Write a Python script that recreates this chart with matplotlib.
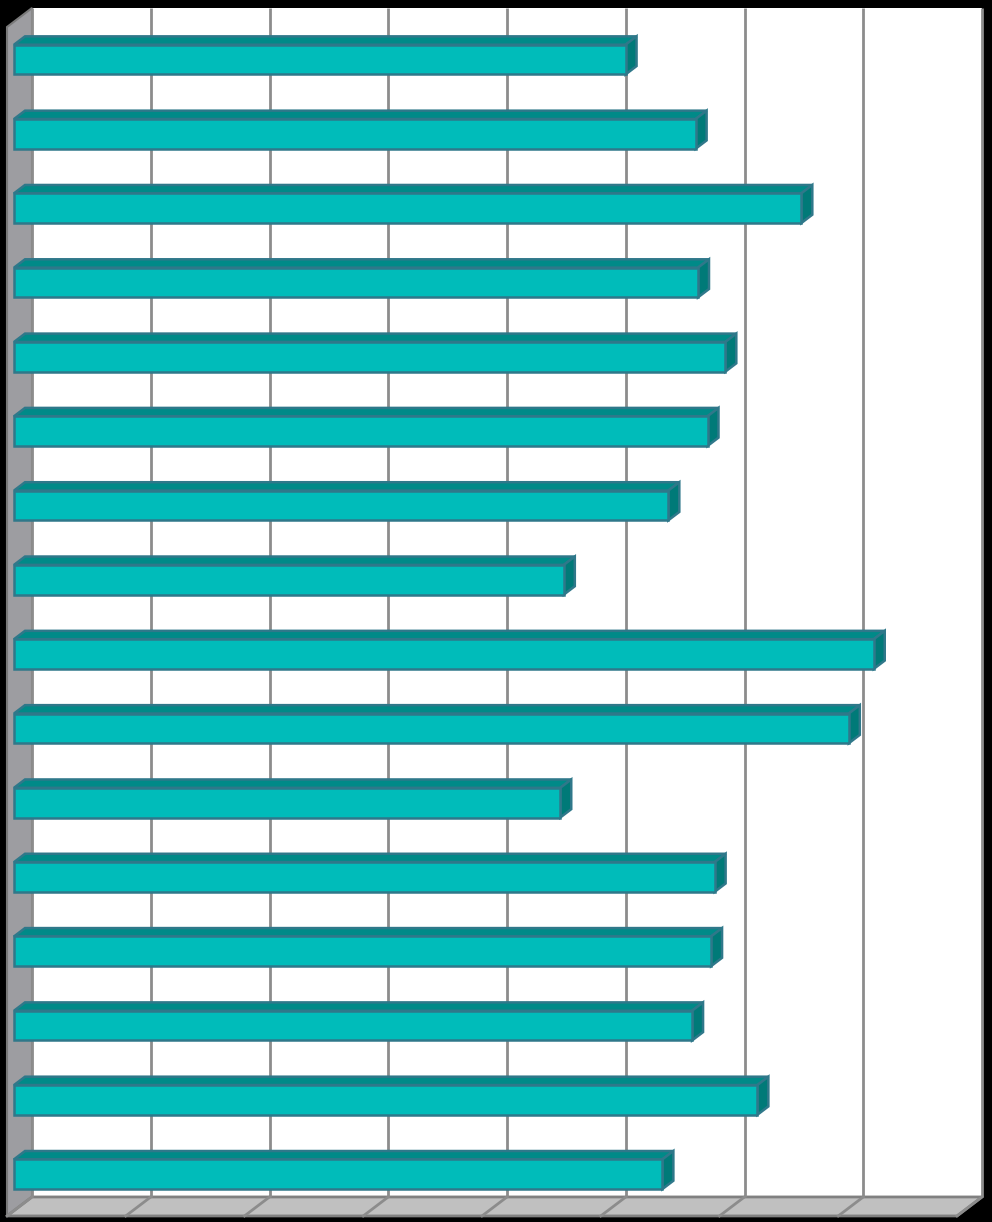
import matplotlib
matplotlib.use("Agg")
import matplotlib.pyplot as plt
from matplotlib.patches import Polygon, Rectangle

# Data (top to bottom)
categories = list(range(1, 17))
values = [5.15, 5.74, 6.63, 5.76, 5.99, 5.84, 5.51, 4.63,
          7.24, 7.03, 4.60, 5.90, 5.87, 5.71, 6.26, 5.46]
x_ticks = list(range(0, 9))

# Styling / geometry
PX_X = 118.75   # pixels per value unit
PX_Y = 74.31    # pixels per category slot
DX = -25 / PX_X  # depth offset (front plane relative to back wall)
DY = 19 / PX_Y
XMAX = 8
N = len(categories)

FRONT = "#00BCBA"
TOP = "#008A88"
SIDE = "#007A78"
EDGE = "#2F788A"
GRID = "#8C8C8C"

fig = plt.figure(figsize=(9.92, 12.22), dpi=100, facecolor="black")
ax = fig.add_axes([0, 0, 1, 1])
ax.set_facecolor("black")
ax.set_xlim(-32 / PX_X, 960 / PX_X)
ax.set_ylim((1222 - 8) / PX_Y, -8 / PX_Y)
ax.axis("off")

# back wall
ax.add_patch(Rectangle((0, 0), XMAX, N, facecolor="white", edgecolor="none", zorder=1))
# left wall
ax.add_patch(Polygon([(0, 0), (0, N), (DX, N + DY), (DX, DY)], closed=True,
                     facecolor="#9D9DA1", edgecolor="#7A7A7A", lw=1.5, zorder=2))
# floor
ax.add_patch(Polygon([(0, N), (XMAX, N), (XMAX + DX, N + DY), (DX, N + DY)], closed=True,
                     facecolor="#C0C0C0", edgecolor="#808080", lw=2, zorder=2))

# gridlines
for t in x_ticks:
    ax.plot([t, t], [0, N], color=GRID, lw=2, zorder=3, solid_capstyle="butt")
    ax.plot([t, t + DX], [N, N + DY], color=GRID, lw=2, zorder=3)

# bars
d_front, d_back = 0.72, 0.28
y0, y1 = 0.31, 0.71
for i, v in enumerate(values):
    fx, fy = d_front * DX, d_front * DY
    bx, by = d_back * DX, d_back * DY
    top = [(fx, i + y0 + fy), (v + fx, i + y0 + fy), (v + bx, i + y0 + by), (bx, i + y0 + by)]
    side = [(v + fx, i + y0 + fy), (v + bx, i + y0 + by), (v + bx, i + y1 + by), (v + fx, i + y1 + fy)]
    front = [(fx, i + y0 + fy), (v + fx, i + y0 + fy), (v + fx, i + y1 + fy), (fx, i + y1 + fy)]
    ax.add_patch(Polygon(top, closed=True, facecolor=TOP, edgecolor=EDGE, lw=1.8, zorder=5, joinstyle="miter"))
    ax.add_patch(Polygon(side, closed=True, facecolor=SIDE, edgecolor=EDGE, lw=1.8, zorder=5, joinstyle="miter"))
    ax.add_patch(Polygon(front, closed=True, facecolor=FRONT, edgecolor=EDGE, lw=1.8, zorder=6, joinstyle="miter"))

fig.savefig("out.png", dpi=100, facecolor="black")
